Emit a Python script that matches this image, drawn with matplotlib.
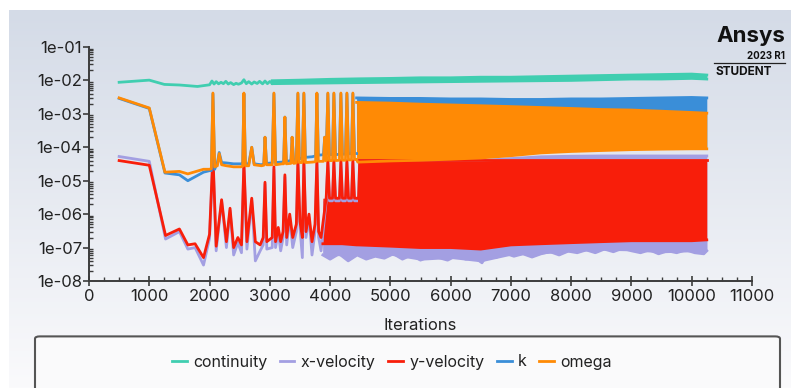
import numpy as np
import matplotlib
matplotlib.use("Agg")
import matplotlib.pyplot as plt
from matplotlib.patches import FancyBboxPatch
from matplotlib.lines import Line2D
from matplotlib.ticker import FuncFormatter, MultipleLocator, LogLocator, NullFormatter

plt.rcParams["font.family"] = ["Inter", "DejaVu Sans"]

names = ["continuity", "x-velocity", "y-velocity", "k", "omega"]
colors = ["#40ceb0", "#a39fe2", "#f81e0a", "#3a8ed8", "#ff8a05"]

# --- sparse early history (iteration, residual) ---
cont_it = [500, 1000, 1250, 1500, 1800, 2000, 2040, 2075, 2110, 2150, 2190, 2230,
           2270, 2310, 2350, 2400, 2440, 2480, 2530, 2570, 2610, 2650, 2700, 2740,
           2790, 2830, 2880, 2920, 2960, 3000, 3040]
cont_val = [8.8e-3, 1.02e-2, 7.6e-3, 7.3e-3, 6.6e-3, 7.4e-3, 9.6e-3, 7.8e-3, 9.2e-3,
            7.9e-3, 8.8e-3, 8.0e-3, 9.4e-3, 7.8e-3, 8.6e-3, 7.5e-3, 8.2e-3, 7.7e-3,
            8.4e-3, 1.05e-2, 8.0e-3, 9.2e-3, 7.8e-3, 9.0e-3, 8.1e-3, 9.4e-3, 7.9e-3,
            9.6e-3, 8.0e-3, 9.3e-3, 8.2e-3]

turb_it = [500, 1000, 1260, 1500, 1640, 1900, 2000,
           2030, 2056, 2085,
           2130, 2160, 2200,
           2280, 2400, 2520,
           2550, 2570, 2595,
           2650, 2700, 2740,
           2860, 2900, 2920, 2945,
           3040, 3068, 3095,
           3200, 3230, 3250, 3275,
           3350, 3370, 3395,
           3440, 3466, 3490,
           3540, 3565, 3590,
           3700, 3760, 3781, 3805,
           3890, 3910, 3935,
           3963, 3990,
           4040, 4063, 4090,
           4155, 4179, 4205,
           4255, 4279, 4305,
           4355, 4378, 4405,
           4440]
omega_val = [3.0e-3, 1.5e-3, 1.8e-5, 1.9e-5, 1.6e-5, 2.2e-5, 2.2e-5,
             2.3e-5, 4.2e-3, 2.6e-5,
             2.8e-5, 6.5e-5, 3.0e-5,
             2.8e-5, 2.6e-5, 2.6e-5,
             2.7e-5, 4.2e-3, 2.8e-5,
             2.8e-5, 1.0e-4, 3.0e-5,
             2.8e-5, 2.9e-5, 2.0e-4, 3.0e-5,
             3.0e-5, 4.2e-3, 3.0e-5,
             3.2e-5, 3.2e-5, 8.0e-4, 3.2e-5,
             3.3e-5, 2.0e-4, 3.3e-5,
             3.4e-5, 4.2e-3, 3.5e-5,
             3.5e-5, 4.2e-3, 3.5e-5,
             3.6e-5, 3.7e-5, 4.2e-3, 3.8e-5,
             3.8e-5, 2.0e-4, 3.9e-5,
             4.2e-3, 4.0e-5,
             4.0e-5, 4.2e-3, 4.0e-5,
             4.1e-5, 4.2e-3, 4.1e-5,
             4.1e-5, 4.2e-3, 4.2e-5,
             4.2e-5, 4.2e-3, 4.3e-5,
             4.3e-5]
k_val = [2.9e-3, 1.45e-3, 1.7e-5, 1.5e-5, 1.0e-5, 1.8e-5, 2.0e-5,
         2.0e-5, 4.0e-3, 2.2e-5,
         3.5e-5, 7.0e-5, 3.5e-5,
         3.4e-5, 3.2e-5, 3.2e-5,
         3.2e-5, 4.0e-3, 3.2e-5,
         3.2e-5, 1.0e-4, 3.2e-5,
         3.0e-5, 3.2e-5, 2.0e-4, 3.3e-5,
         3.4e-5, 4.0e-3, 3.5e-5,
         3.6e-5, 3.7e-5, 8.0e-4, 3.8e-5,
         4.0e-5, 2.0e-4, 4.0e-5,
         4.2e-5, 4.0e-3, 4.5e-5,
         4.8e-5, 4.0e-3, 5.0e-5,
         5.2e-5, 5.5e-5, 4.0e-3, 5.8e-5,
         6.0e-5, 2.0e-4, 6.0e-5,
         4.0e-3, 6.0e-5,
         6.0e-5, 4.0e-3, 6.0e-5,
         6.2e-5, 4.0e-3, 6.2e-5,
         6.2e-5, 4.0e-3, 6.4e-5,
         6.4e-5, 4.0e-3, 6.5e-5,
         6.5e-5]

vel_it = [500, 1000, 1270, 1500, 1640, 1760, 1900, 2000,
          2056, 2110, 2200, 2280, 2340, 2400, 2470, 2530,
          2570, 2620, 2700, 2760, 2840, 2890,
          2920, 2950, 3040,
          3068, 3095, 3140, 3180, 3220,
          3250, 3280, 3330, 3380, 3440,
          3466, 3500, 3540,
          3565, 3600, 3650, 3700, 3750,
          3781, 3810, 3850, 3935,
          3963, 3990, 4040,
          4063, 4090, 4155,
          4179, 4205, 4255,
          4279, 4305, 4355,
          4378, 4405, 4440]
yvel_val = [4.0e-5, 2.9e-5, 2.3e-7, 3.6e-7, 1.2e-7, 1.3e-7, 5.0e-8, 2.5e-7,
            6.0e-5, 1.1e-7, 2.7e-6, 1.5e-7, 1.5e-6, 1.0e-7, 2.0e-7, 1.2e-7,
            3.5e-5, 1.5e-7, 3.0e-6, 1.5e-7, 1.2e-7, 2.0e-7,
            9.0e-6, 1.5e-7, 2.0e-7,
            2.6e-5, 1.5e-7, 4.0e-7, 1.5e-7, 3.0e-7,
            1.5e-5, 2.0e-7, 1.0e-6, 2.0e-7, 5.0e-7,
            4.0e-5, 6.0e-7, 2.0e-7,
            4.0e-5, 3.0e-7, 1.0e-6, 1.5e-7, 5.0e-7,
            4.0e-5, 3.0e-7, 2.0e-7, 3.0e-6,
            4.0e-5, 3.0e-6, 3.0e-6,
            4.0e-5, 3.0e-6, 3.0e-6,
            4.0e-5, 3.0e-6, 3.0e-6,
            4.0e-5, 3.0e-6, 3.0e-6,
            4.0e-5, 3.0e-6, 3.0e-6]
xvel_val = [5.3e-5, 3.8e-5, 1.8e-7, 3.0e-7, 9.0e-8, 1.0e-7, 3.0e-8, 1.9e-7,
            5.0e-5, 8.0e-8, 2.5e-6, 1.0e-7, 1.3e-6, 6.0e-8, 1.4e-7, 7.0e-8,
            3.0e-5, 9.0e-8, 2.6e-6, 4.0e-8, 8.0e-8, 1.2e-7,
            8.0e-6, 9.0e-8, 1.0e-7,
            2.2e-5, 1.0e-7, 3.0e-7, 8.0e-8, 2.0e-7,
            1.3e-5, 1.2e-7, 8.0e-7, 1.0e-7, 3.0e-7,
            3.5e-5, 4.0e-7, 5.0e-8,
            3.5e-5, 2.0e-7, 8.0e-7, 6.0e-8, 3.0e-7,
            3.5e-5, 2.0e-7, 8.0e-8, 2.5e-6,
            3.5e-5, 2.5e-6, 2.5e-6,
            3.5e-5, 2.5e-6, 2.5e-6,
            3.5e-5, 2.5e-6, 2.5e-6,
            3.5e-5, 2.5e-6, 2.5e-6,
            3.5e-5, 2.5e-6, 2.5e-6]

# --- dense oscillating history: band envelopes (low / high) ---
cont_env_it = [3040, 3500, 4000, 4500, 5000, 5500, 6000, 6500, 7000, 7500, 8000, 8500,
               9000, 9500, 10000, 10250]
cont_hi = [9.8e-3, 1.02e-2, 1.08e-2, 1.12e-2, 1.15e-2, 1.2e-2, 1.2e-2, 1.25e-2,
           1.25e-2, 1.3e-2, 1.35e-2, 1.4e-2, 1.45e-2, 1.5e-2, 1.55e-2, 1.45e-2]
cont_lo = [8.0e-3, 8.2e-3, 8.4e-3, 8.6e-3, 8.8e-3, 9.0e-3, 9.2e-3, 9.4e-3, 9.6e-3,
           9.8e-3, 1.0e-2, 1.05e-2, 1.1e-2, 1.1e-2, 1.15e-2, 1.1e-2]

vel_env_it = [3880, 4200, 4440, 4460, 5000, 5500, 6000, 6500, 7000, 7500, 8000,
              8500, 9000, 9500, 10000, 10250]
yvel_hi = [3.0e-6, 3.0e-6, 3.0e-6, 4.2e-5, 4.2e-5, 4.2e-5, 4.2e-5, 4.2e-5, 4.2e-5,
           4.2e-5, 4.2e-5, 4.2e-5, 4.2e-5, 4.2e-5, 4.2e-5, 4.2e-5]
yvel_lo = [1.3e-7, 1.3e-7, 1.2e-7, 1.2e-7, 1.1e-7, 1.0e-7, 1.0e-7, 9.0e-8, 1.2e-7,
           1.3e-7, 1.4e-7, 1.5e-7, 1.6e-7, 1.6e-7, 1.6e-7, 1.7e-7]
xvel_hi = [2.5e-6, 2.5e-6, 2.5e-6, 4.0e-5, 4.0e-5, 4.0e-5, 4.0e-5, 4.0e-5, 4.6e-5,
           5.2e-5, 5.4e-5, 5.5e-5, 5.5e-5, 5.5e-5, 5.5e-5, 5.5e-5]

xlo_it = [3880, 4000, 4150, 4300, 4450, 4600, 4750, 4900, 5050, 5200, 5350, 5500,
          5650, 5800, 5950, 6100, 6250, 6400, 6520, 6600, 6750, 6900, 7050, 7200,
          7350, 7500, 7650, 7800, 7950, 8100, 8250, 8400, 8550, 8700, 8850, 9000,
          9150, 9300, 9450, 9600, 9750, 9900, 10050, 10200, 10250]
xvel_lo = [6.0e-8, 4.5e-8, 6.5e-8, 4.0e-8, 6.0e-8, 4.5e-8, 5.5e-8, 4.8e-8, 6.5e-8,
           4.5e-8, 6.0e-8, 4.2e-8, 5.5e-8, 5.0e-8, 4.2e-8, 5.8e-8, 4.5e-8, 5.0e-8,
           3.5e-8, 6.0e-8, 5.0e-8, 6.8e-8, 5.5e-8, 6.5e-8, 5.2e-8, 6.5e-8, 7.5e-8,
           6.0e-8, 7.8e-8, 7.0e-8, 8.5e-8, 7.0e-8, 9.0e-8, 7.5e-8, 9.5e-8, 8.0e-8,
           7.0e-8, 8.5e-8, 6.5e-8, 8.0e-8, 7.0e-8, 8.5e-8, 7.0e-8, 6.5e-8, 8.0e-8]

turb_env_it = [4440, 4460, 5000, 5500, 6000, 6500, 7000, 7500, 8000, 8500, 9000, 9500,
               10000, 10250]
k_hi = [3.0e-3, 3.0e-3, 2.9e-3, 2.9e-3, 2.8e-3, 2.8e-3, 2.7e-3, 2.7e-3, 2.8e-3,
        2.8e-3, 2.9e-3, 3.0e-3, 3.1e-3, 3.0e-3]
k_lo = [6.5e-5, 5.0e-5, 6.0e-5, 6.5e-5, 7.0e-5, 7.5e-5, 8.0e-5, 8.5e-5, 9.0e-5,
        9.5e-5, 1.0e-4, 1.0e-4, 1.05e-4, 1.05e-4]
omega_hi = [2.2e-3, 2.2e-3, 2.1e-3, 1.95e-3, 1.85e-3, 1.75e-3, 1.65e-3, 1.55e-3,
            1.45e-3, 1.35e-3, 1.3e-3, 1.2e-3, 1.1e-3, 1.05e-3]
omega_lo = [4.3e-5, 3.6e-5, 3.9e-5, 4.1e-5, 4.4e-5, 4.8e-5, 5.6e-5, 6.8e-5, 7.5e-5,
            8.0e-5, 8.5e-5, 8.8e-5, 9.0e-5, 9.0e-5]

W, H = 791, 388
fig = plt.figure(figsize=(W / 100, H / 100), dpi=100)

# gradient panel behind everything
bg = fig.add_axes([9 / W, 0, 1 - 9 / W, 1 - 10 / H], zorder=-10)
top_c = np.array([212, 219, 231]) / 255
bot_c = np.array([250, 250, 252]) / 255
t = np.linspace(0, 1, 256)[:, None]
grad = top_c[None, :] * (1 - t) + bot_c[None, :] * t
bg.imshow(grad[:, None, :], aspect="auto", extent=[0, 1, 0, 1])
bg.axis("off")

ax = fig.add_axes([89 / W, 1 - 281 / H, (752 - 89) / W, (281 - 47) / H])
ax.set_facecolor("none")

lw = 2.0
# continuity
ax.fill_between(cont_env_it, cont_lo, cont_hi, color=colors[0], lw=0)
ax.plot(cont_env_it, cont_hi, color=colors[0], lw=lw)
ax.plot(cont_env_it, cont_lo, color=colors[0], lw=lw)
ax.plot(cont_it, cont_val, color=colors[0], lw=lw)
# x-velocity
ax.fill_between(vel_env_it, np.interp(vel_env_it, xlo_it, xvel_lo), xvel_hi,
                color=colors[1], lw=0)
ax.fill_between(xlo_it, xvel_lo, np.interp(xlo_it, vel_env_it, yvel_lo),
                color=colors[1], lw=0)
ax.plot(xlo_it, xvel_lo, color=colors[1], lw=lw)
ax.plot(vel_env_it[3:], xvel_hi[3:], color=colors[1], lw=lw)
ax.plot(vel_it, xvel_val, color=colors[1], lw=lw)
# y-velocity
ax.fill_between(vel_env_it, yvel_lo, yvel_hi, color=colors[2], lw=0)
ax.plot(vel_env_it, yvel_lo, color=colors[2], lw=lw)
ax.plot(vel_env_it[3:], yvel_hi[3:], color=colors[2], lw=lw)
ax.plot(vel_it, yvel_val, color=colors[2], lw=lw)
# k
ax.fill_between(turb_env_it, k_lo, k_hi, color=colors[3], lw=0)
ax.plot(turb_env_it, k_hi, color=colors[3], lw=lw)
ax.plot(turb_it, k_val, color=colors[3], lw=lw)
# omega
ax.fill_between(turb_env_it, omega_lo, omega_hi, color=colors[4], lw=0)
ax.plot(turb_env_it, omega_hi, color=colors[4], lw=lw)
ax.plot(turb_env_it, omega_lo, color=colors[4], lw=lw)
ax.plot(turb_it, omega_val, color=colors[4], lw=lw)

ax.set_yscale("log")
ax.set_xlim(0, 11000)
ax.set_ylim(1e-8, 1e-1)
ax.xaxis.set_major_locator(MultipleLocator(1000))
ax.xaxis.set_minor_locator(MultipleLocator(250))
ax.yaxis.set_major_locator(LogLocator(base=10, numticks=20))
ax.yaxis.set_minor_locator(LogLocator(base=10, subs=np.arange(2, 10), numticks=20))
ax.yaxis.set_minor_formatter(NullFormatter())
ax.yaxis.set_major_formatter(FuncFormatter(lambda v, p: f"1e-{int(round(-np.log10(v))):02d}"))

for s in ["top", "right"]:
    ax.spines[s].set_visible(False)
for s in ["left", "bottom"]:
    ax.spines[s].set_color("#3c3c3c")
    ax.spines[s].set_linewidth(1.4)
ax.tick_params(axis="y", which="major", direction="out", length=4, width=1.2,
               color="#3c3c3c", labelsize=12, labelcolor="#222222", pad=1)
ax.tick_params(axis="y", which="minor", direction="in", length=3, width=1.0, color="#3c3c3c")
ax.tick_params(axis="x", which="major", direction="inout", length=7, width=1.2,
               color="#3c3c3c", labelsize=12, labelcolor="#222222", pad=2)
ax.tick_params(axis="x", which="minor", direction="in", length=3, width=1.0, color="#3c3c3c")
ax.set_xlabel("Iterations", fontsize=12, color="#222222", labelpad=10)

# legend frame
box = FancyBboxPatch((35 / W, -0.05), (780 - 35) / W, (H + 20 - 337) / H,
                     boxstyle="round,pad=0,rounding_size=0.006",
                     transform=fig.transFigure, facecolor="#fafafb",
                     edgecolor="#555555", lw=1.5, zorder=1)
fig.patches.append(box)
handles = [Line2D([], [], color=c, lw=2) for c in colors]
fig.legend(handles, names, loc="center", bbox_to_anchor=(392 / W, 1 - 362 / H),
           ncol=5, frameon=False, fontsize=11.5, handlelength=0.9, handletextpad=0.4,
           columnspacing=0.8, labelcolor="#222222")

# Ansys badge
fig.text(785 / W, 1 - 36 / H, "Ansys", ha="right", va="center", fontsize=16,
         fontweight="bold", color="#111111")
fig.text(785 / W, 1 - 56 / H, "2023 R1", ha="right", va="center", fontsize=7,
         fontweight="bold", color="#111111")
fig.add_artist(Line2D([714 / W, 785 / W], [1 - 63 / H, 1 - 63 / H], color="#222222",
                      lw=0.9, transform=fig.transFigure))
fig.text(716 / W, 1 - 72 / H, "STUDENT", ha="left", va="center", fontsize=8.5,
         fontweight="bold", color="#111111")

fig.savefig("out.png", dpi=100)
